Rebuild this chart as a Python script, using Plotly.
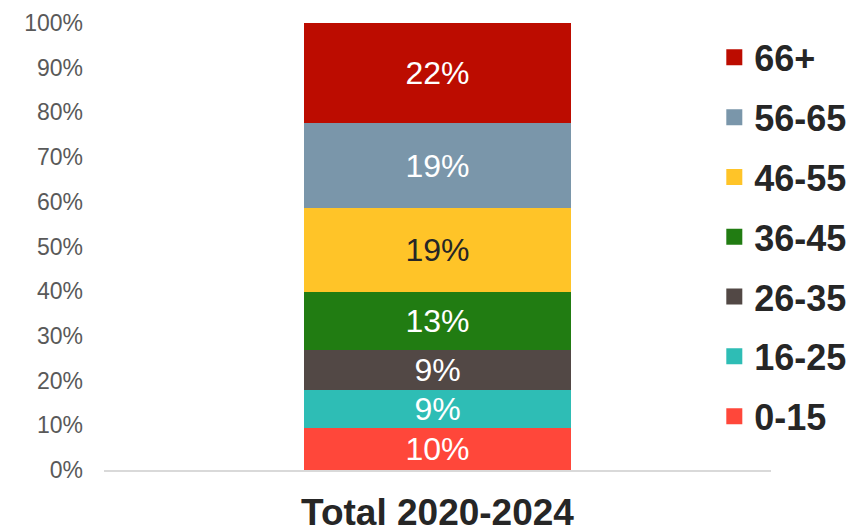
import plotly.graph_objects as go

categories = ["Total 2020-2024"]
age_groups = ["0-15", "16-25", "26-35", "36-45", "46-55", "56-65", "66+"]
shares = [9.3, 8.7, 8.9, 12.9, 18.8, 19.0, 22.4]
share_labels = ["10%", "9%", "9%", "13%", "19%", "19%", "22%"]
colors = ["#FF473A", "#2EBDB5", "#524845", "#217C12", "#FFC428", "#7A96AA", "#BC0C00"]
label_colors = ["#FFFFFF", "#FFFFFF", "#FFFFFF", "#FFFFFF", "#262626", "#FFFFFF", "#FFFFFF"]
y_ticks = list(range(0, 101, 10))
y_tick_text = [f"{v}%" for v in y_ticks]

FONT = "Liberation Sans, Arial, sans-serif"

fig = go.Figure()
n = len(age_groups)
for i, g in enumerate(age_groups):
    fig.add_trace(go.Bar(
        x=categories,
        y=[shares[i]],
        name=g,
        legendgroup=g,
        showlegend=False,
        marker=dict(color=colors[i], line=dict(width=0)),
        text=[share_labels[i]],
        textposition="inside",
        insidetextanchor="middle",
        constraintext="none",
        textfont=dict(family=FONT, size=32, color=label_colors[i]),
        hoverinfo="name+y",
    ))
# legend entries (square swatches) linked to the bar traces
for i, g in enumerate(age_groups):
    fig.add_trace(go.Scatter(
        x=[None], y=[None],
        mode="markers",
        name=g,
        legendgroup=g,
        legendrank=n - i,
        showlegend=True,
        marker=dict(symbol="square", size=19, color=colors[i]),
        hoverinfo="skip",
    ))

fig.update_layout(
    barmode="stack",
    bargap=0.6,
    width=856,
    height=530,
    margin=dict(l=104, r=85, t=23, b=60, autoexpand=False),
    paper_bgcolor="white",
    plot_bgcolor="white",
    font=dict(family=FONT),
    showlegend=True,
    legend=dict(
        x=0.915, xanchor="left",
        y=0.99, yanchor="top",
        traceorder="grouped",
        tracegroupgap=10,
        itemwidth=30,
        itemsizing="trace",
        font=dict(family=FONT, size=36, color="#262626", weight="bold"),
        bgcolor="rgba(0,0,0,0)",
    ),
    xaxis=dict(
        showline=True, linecolor="#D9D9D9", linewidth=2,
        showgrid=False, zeroline=False, ticks="",
        tickfont=dict(family=FONT, size=37, color="#262626", weight="bold"),
        ticklabelstandoff=9,
        automargin=False,
    ),
    yaxis=dict(
        range=[0, 100],
        tickmode="array",
        tickvals=y_ticks,
        ticktext=y_tick_text,
        showline=False, showgrid=False, zeroline=False, ticks="",
        tickfont=dict(family=FONT, size=23, color="#595959"),
        ticklabelstandoff=20,
        automargin=False,
    ),
)

fig.write_html(
    "out.html",
    config={"displayModeBar": False},
    post_script="document.body.style.margin='0';document.body.style.overflow='hidden';",
)
